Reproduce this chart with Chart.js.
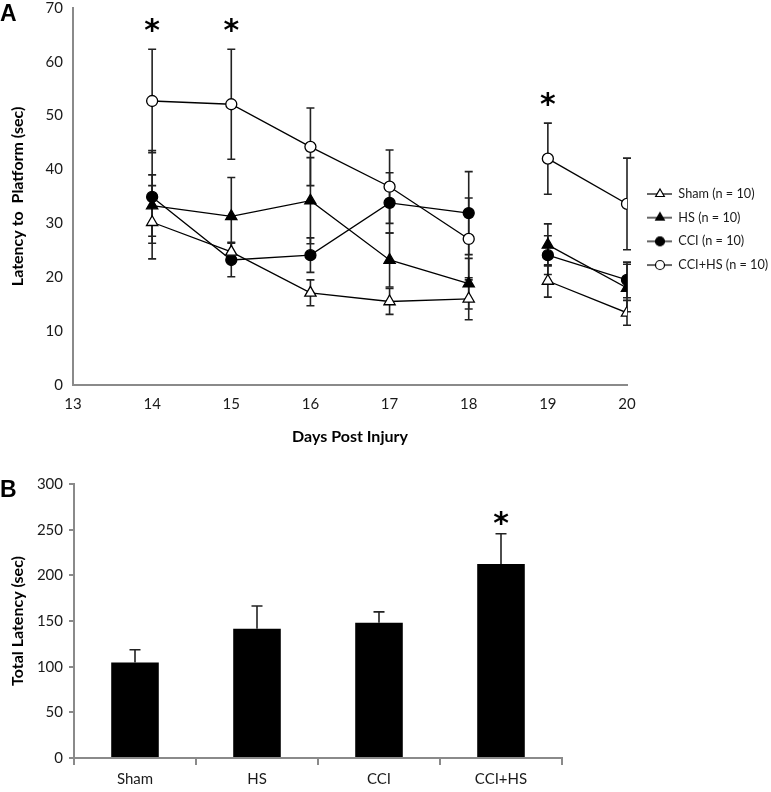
<!DOCTYPE html>
<html>
<head>
<meta charset="utf-8">
<title>Latency to Platform</title>
<script src="https://cdn.jsdelivr.net/npm/chart.js@4"></script>
<style>
  body { margin: 0; background: #fff; }
  #wrap { position: relative; width: 771px; height: 792px; }
  canvas { position: absolute; left: 0; }
  #chartA { top: 0; }
  #chartB { top: 450px; }
  .panel { position: absolute; left: 0; font: bold 23px "Liberation Sans", Arial, sans-serif; color: #000; }
</style>
</head>
<body>
<div id="wrap">
  <canvas id="chartA" width="771" height="452"></canvas>
  <canvas id="chartB" width="771" height="342"></canvas>
  <div class="panel" style="top:0px">A</div>
  <div class="panel" style="top:476px">B</div>
</div>

<script>
// panel A: latency per day (mean +/- SEM)
var days = [14, 15, 16, 17, 18, 19, 20];
var sham = [30.2, 24.7, 17.1, 15.5, 16.0, 19.3, 13.4];
var shamErr = [6.8, 1.8, 2.4, 2.4, 3.9, 3.0, 2.3];
var hs = [33.3, 31.3, 34.2, 23.2, 18.8, 26.0, 18.0];
var hsErr = [5.7, 7.2, 8.0, 5.0, 4.7, 3.9, 4.4];
var cci = [34.9, 23.2, 24.1, 33.8, 31.9, 24.1, 19.5];
var cciErr = [8.6, 3.1, 3.2, 5.6, 7.7, 3.6, 3.3];
var cciHs = [52.7, 52.1, 44.2, 36.8, 27.1, 42.0, 33.6];
var cciHsErr = [9.6, 10.2, 7.2, 6.8, 7.6, 6.6, 8.5];
var starDaysA = [14, 15, 19];
var starValsA = [66.7, 66.7, 52.9];

// panel B: total latency
var groups = ['Sham', 'HS', 'CCI', 'CCI+HS'];
var totals = [104.5, 141.5, 148, 212.5];
var totalsErr = [14, 25, 12, 33];
var starGroupsB = [3];
var starValsB = [262];

var FONT = 'Lato, "Open Sans", sans-serif';
var AXIS = '#8a8a8a';
var TXT = '#1a1a1a';

function pts(vals) {
  return days.map(function (d, i) { return { x: d, y: vals[i] }; });
}

function drawErrors(chart) {
  var ctx = chart.ctx, ys = chart.scales.y;
  chart.data.datasets.forEach(function (ds, di) {
    if (!ds.errors) return;
    var meta = chart.getDatasetMeta(di);
    ctx.save();
    ctx.strokeStyle = '#222';
    ctx.lineWidth = 1.6;
    meta.data.forEach(function (el, i) {
      var v = meta.controller.getParsed(i).y;
      var e = ds.errors[i];
      var cap = ds.capWidth || 8;
      var top = ys.getPixelForValue(v + e);
      var bot = ds.upOnly ? el.y : ys.getPixelForValue(v - e);
      ctx.beginPath();
      ctx.moveTo(el.x, top); ctx.lineTo(el.x, bot);
      ctx.moveTo(el.x - cap / 2, top); ctx.lineTo(el.x + cap / 2, top);
      if (!ds.upOnly) { ctx.moveTo(el.x - cap / 2, bot); ctx.lineTo(el.x + cap / 2, bot); }
      ctx.stroke();
    });
    ctx.restore();
  });
}

var errorBarsBelow = { id: 'errorBarsBelow', beforeDatasetsDraw: function (c) { if (c.config.type === 'line') drawErrors(c); } };
var errorBarsAbove = { id: 'errorBarsAbove', afterDatasetsDraw: function (c) { if (c.config.type === 'bar') drawErrors(c); } };

var stars = {
  id: 'stars',
  afterDatasetsDraw: function (chart, args, opts) {
    var ctx = chart.ctx;
    ctx.save();
    ctx.font = 'bold 30px "DejaVu Sans", sans-serif';
    ctx.fillStyle = '#000';
    ctx.textAlign = 'center';
    ctx.textBaseline = 'alphabetic';
    var m = ctx.measureText('*');
    var shift = (m.actualBoundingBoxAscent - m.actualBoundingBoxDescent) / 2;
    opts.at.forEach(function (xv, i) {
      var px = chart.scales.x.getPixelForValue(xv);
      var py = chart.scales.y.getPixelForValue(opts.vals[i]);
      ctx.fillText('*', px, py + shift);
    });
    ctx.restore();
  }
};

// legend icon: short line with the marker; left 9px kept blank as gap from the plot
function legendIcon(style, fill) {
  var c = document.createElement('canvas');
  c.width = 34; c.height = 14;
  var g = c.getContext('2d');
  g.strokeStyle = '#000';
  g.lineWidth = 1.2;
  g.beginPath(); g.moveTo(9, 7); g.lineTo(34, 7); g.stroke();
  g.fillStyle = fill;
  Chart.helpers.drawPoint(g, { pointStyle: style, radius: style === 'triangle' ? 5 : 4.5, borderWidth: 1.2, rotation: 0 }, 22, 7);
  return c;
}

function lineSet(label, vals, errs, style, fill) {
  return {
    label: label,
    data: pts(vals),
    errors: errs,
    borderColor: '#000',
    borderWidth: 1.3,
    pointStyle: style,
    pointRadius: style === 'triangle' ? 6.5 : 5.5,
    pointBorderWidth: 1.3,
    pointBorderColor: '#000',
    pointBackgroundColor: fill,
    legendFill: fill,
    segment: { borderColor: function (s) { return s.p0.parsed.x === 18 ? 'rgba(0,0,0,0)' : '#000'; } }
  };
}

new Chart(document.getElementById('chartA'), {
  type: 'line',
  data: {
    datasets: [
      lineSet('Sham (n = 10)', sham, shamErr, 'triangle', '#fff'),
      lineSet('HS (n = 10)', hs, hsErr, 'triangle', '#000'),
      lineSet('CCI (n = 10)', cci, cciErr, 'circle', '#000'),
      lineSet('CCI+HS (n = 10)', cciHs, cciHsErr, 'circle', '#fff')
    ]
  },
  options: {
    responsive: false,
    animation: false,
    devicePixelRatio: 1,
    layout: { padding: { top: 7, right: 0, left: 0, bottom: 0 } },
    scales: {
      x: {
        type: 'linear', min: 13, max: 20,
        ticks: { stepSize: 1, color: TXT, padding: 10, font: { family: FONT, size: 15 } },
        grid: { display: false, drawTicks: false },
        border: { display: true, color: AXIS, width: 2 },
        title: { display: true, text: 'Days Post Injury', color: '#000', padding: { top: 0, bottom: 6 }, font: { family: FONT, size: 16, weight: 'bold' } },
        afterFit: function (s) { s.height = 67; s.paddingRight = 0; }
      },
      y: {
        min: 0, max: 70,
        ticks: { stepSize: 10, color: TXT, padding: 10, font: { family: FONT, size: 15 } },
        grid: { display: false, drawTicks: false },
        border: { display: true, color: AXIS, width: 2 },
        title: { display: true, text: 'Latency to  Platform (sec)', color: '#000', padding: { top: 8, bottom: 0 }, font: { family: FONT, size: 16, weight: 'bold' } },
        afterFit: function (s) { s.width = 73; s.paddingTop = 0; s.paddingBottom = 0; }
      }
    },
    plugins: {
      tooltip: { enabled: false },
      stars: { at: starDaysA, vals: starValsA },
      legend: {
        position: 'right',
        align: 'center',
        maxWidth: 144,
        labels: {
          usePointStyle: true,
          pointStyleWidth: 34,
          boxHeight: 14,
          padding: 11,
          color: TXT,
          font: { family: FONT, size: 12.7 },
          generateLabels: function (chart) {
            return chart.data.datasets.map(function (ds, i) {
              return {
                text: ds.label, datasetIndex: i, fontColor: TXT,
                pointStyle: legendIcon(ds.pointStyle, ds.legendFill),
                fillStyle: 'rgba(0,0,0,0)', strokeStyle: 'rgba(0,0,0,0)', lineWidth: 0
              };
            });
          }
        }
      }
    }
  },
  plugins: [errorBarsBelow, stars]
});

new Chart(document.getElementById('chartB'), {
  type: 'bar',
  data: {
    labels: groups,
    datasets: [{
      data: totals,
      errors: totalsErr,
      upOnly: true,
      capWidth: 11,
      backgroundColor: '#000',
      borderWidth: 0,
      barPercentage: 0.39,
      categoryPercentage: 1
    }]
  },
  options: {
    responsive: false,
    animation: false,
    devicePixelRatio: 1,
    layout: { padding: { top: 34, right: 209, left: 0, bottom: 0 } },
    scales: {
      x: {
        ticks: { color: TXT, padding: 5, font: { family: FONT, size: 15 } },
        grid: { display: true, drawOnChartArea: false, tickLength: 7, color: AXIS, lineWidth: 2 },
        border: { display: true, color: AXIS, width: 2 },
        afterFit: function (s) { s.height = 34; }
      },
      y: {
        min: 0, max: 300,
        ticks: { stepSize: 50, color: TXT, padding: 6, font: { family: FONT, size: 15 } },
        grid: { display: true, drawOnChartArea: false, tickLength: 5, color: AXIS, lineWidth: 2 },
        border: { display: true, color: AXIS, width: 2 },
        title: { display: true, text: 'Total Latency (sec)', color: '#000', padding: { top: 8, bottom: 0 }, font: { family: FONT, size: 16, weight: 'bold' } },
        afterFit: function (s) { s.width = 74; }
      }
    },
    plugins: {
      legend: { display: false },
      tooltip: { enabled: false },
      stars: { at: starGroupsB, vals: starValsB }
    }
  },
  plugins: [errorBarsAbove, stars]
});
</script>
</body>
</html>
